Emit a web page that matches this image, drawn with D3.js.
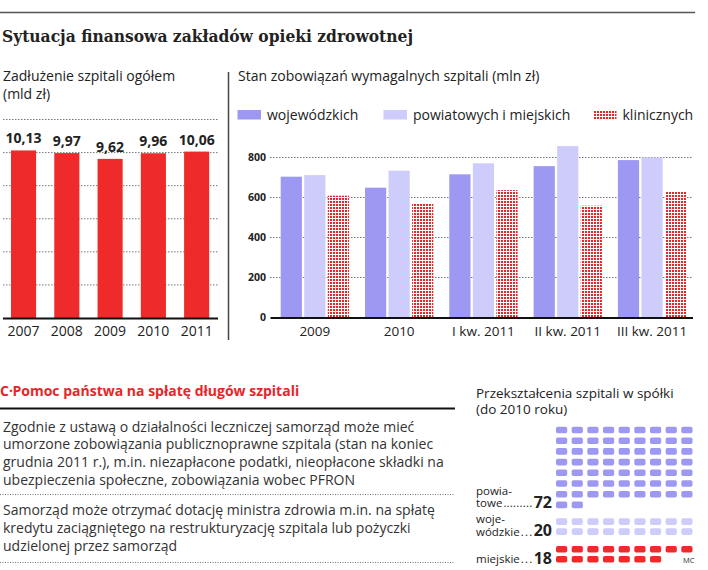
<!DOCTYPE html>
<html><head><meta charset="utf-8">
<script src="https://cdn.jsdelivr.net/npm/d3@7"></script>
<style>
html,body{margin:0;padding:0;background:#fff;}
svg{display:block;}
text{font-family:"Open Sans",sans-serif;fill:#222;}
</style></head>
<body>
<svg id="c" width="708" height="570"></svg>
<script>
// ---- data ----
const leftYears = ["2007", "2008", "2009", "2010", "2011"];
const leftValues = [10.13, 9.97, 9.62, 9.96, 10.06];
const leftGrid = [2, 4, 6, 8, 10, 12];

const rightCategories = ["2009", "2010", "I kw. 2011", "II kw. 2011", "III kw. 2011"];
const seriesNames = ["wojewódzkich", "powiatowych i miejskich", "klinicznych"];
const wojValues = [704, 649, 716, 757, 787];
const powValues = [712, 734, 771, 857, 800];
const klinValues = [609, 571, 637, 559, 629];
const rightTicks = [0, 200, 400, 600, 800];

const waffleNames = [["powia-", "towe"], ["woje-", "wódzkie"], ["miejskie"]];
const waffleValues = [72, 20, 18];
const waffleSquares = [65, 18, 16];

const para1 = ["Zgodnie z ustawą o działalności leczniczej samorząd może mieć",
  "umorzone zobowiązania publicznoprawne szpitala (stan na koniec",
  "grudnia 2011 r.), m.in. niezapłacone podatki, nieopłacone składki na",
  "ubezpieczenia społeczne, zobowiązania wobec PFRON"];
const para2 = ["Samorząd może otrzymać dotację ministra zdrowia m.in. na spłatę",
  "kredytu zaciągniętego na restrukturyzację szpitala lub pożyczki",
  "udzielonej przez samorząd"];

// ---- drawing ----
const svg = d3.select("#c");
const RED = "#ee2a2a", WOJ = "#9d98f2", POW = "#cdccfa";
const defs = svg.append("defs");
const pat = defs.append("pattern").attr("id", "dots").attr("patternUnits", "userSpaceOnUse")
  .attr("width", 3).attr("height", 3);
pat.append("rect").attr("width", 3).attr("height", 3).attr("fill", "#fff");
pat.append("rect").attr("width", 2).attr("height", 2).attr("fill", "#e8262a");
const seriesFill = [WOJ, POW, "url(#dots)"];

// top rule & title
svg.append("line").attr("x1", 0).attr("x2", 695).attr("y1", 12.5).attr("y2", 12.5)
  .attr("stroke", "#555").attr("stroke-width", 1.5);
svg.append("text").attr("x", 2).attr("y", 42)
  .style("font-family", "'DejaVu Serif',serif").style("font-weight", "bold").style("font-size", "16.5px")
  .attr("textLength", 411).attr("lengthAdjust", "spacingAndGlyphs")
  .text("Sytuacja finansowa zakładów opieki zdrowotnej");

// separator
svg.append("line").attr("x1", 228.5).attr("x2", 228.5).attr("y1", 72).attr("y2", 340)
  .attr("stroke", "#444").attr("stroke-width", 1.5);

// ---- left chart ----
svg.append("text").attr("x", 3).attr("y", 81).style("font-size", "14px").text("Zadłużenie szpitali ogółem");
svg.append("text").attr("x", 3).attr("y", 99).style("font-size", "14px").text("(mld zł)");

const lx = d3.scaleBand().domain(leftYears).range([11, 209.2]).paddingInner(0.42).paddingOuter(0);
const ly = d3.scaleLinear().domain([0, 12]).range([318, 119.5]);
const lg = svg.append("g");
lg.selectAll("line.grid").data(leftGrid).join("line").attr("class", "grid")
  .attr("x1", 3).attr("x2", 218).attr("y1", d => ly(d)).attr("y2", d => ly(d))
  .attr("stroke", "#777").attr("stroke-width", 1).attr("stroke-dasharray", "1.5,1.5");
lg.selectAll("rect").data(leftValues).join("rect")
  .attr("x", (d, i) => lx(leftYears[i])).attr("width", lx.bandwidth())
  .attr("y", d => ly(d)).attr("height", d => ly(0) - ly(d)).attr("fill", RED);
lg.append("line").attr("x1", 3).attr("x2", 218).attr("y1", ly(0) + 0.5).attr("y2", ly(0) + 0.5)
  .attr("stroke", "#111").attr("stroke-width", 2);
lg.selectAll("text.val").data(leftValues).join("text").attr("class", "val")
  .attr("x", (d, i) => lx(leftYears[i]) + lx.bandwidth() / 2).attr("y", d => ly(d) - 7)
  .attr("text-anchor", "middle").style("font-weight", "bold").style("font-size", "14px")
  .text(d => d.toFixed(2).replace(".", ","));
const lxAxis = lg.append("g").attr("transform", `translate(0,${ly(0)})`)
  .call(d3.axisBottom(lx).tickSize(0).tickPadding(8));
lxAxis.select(".domain").remove();
lxAxis.selectAll("text").style("font-size", "14px").style("font-family", "'Open Sans',sans-serif").attr("fill", "#222");

// ---- right chart ----
svg.append("text").attr("x", 238).attr("y", 81).style("font-size", "14px")
  .text("Stan zobowiązań wymagalnych szpitali (mln zł)");

const legendX = [237.5, 383.5, 593];
const leg = svg.append("g");
seriesNames.forEach((n, i) => {
  leg.append("rect").attr("x", legendX[i]).attr("y", 110).attr("width", 23.5).attr("height", 9.5)
    .attr("fill", seriesFill[i]);
  leg.append("text").attr("x", legendX[i] + 29.5).attr("y", 120).style("font-size", "14px").text(n);
});

const rx = d3.scaleBand().domain(rightCategories).range([280.7, 686.2]).paddingInner(0.19).paddingOuter(0);
const rsub = d3.scaleBand().domain(seriesNames).range([0, rx.bandwidth()]).paddingInner(0.1);
const ry = d3.scaleLinear().domain([0, 800]).range([317.5, 157.5]);
const rg = svg.append("g");
rg.selectAll("line.grid").data(rightTicks.filter(d => d > 0)).join("line").attr("class", "grid")
  .attr("x1", 270).attr("x2", 692).attr("y1", d => ry(d)).attr("y2", d => ry(d))
  .attr("stroke", "#777").attr("stroke-width", 1).attr("stroke-dasharray", "1.5,1.5");
rg.append("line").attr("x1", 270.5).attr("x2", 693).attr("y1", ry(0) + 0.5).attr("y2", ry(0) + 0.5)
  .attr("stroke", "#111").attr("stroke-width", 2);
const series = [wojValues, powValues, klinValues];
series.forEach((vals, s) => {
  rg.selectAll("rect.s" + s).data(vals).join("rect").attr("class", "s" + s)
    .attr("x", (d, i) => rx(rightCategories[i]) + rsub(seriesNames[s]))
    .attr("width", rsub.bandwidth())
    .attr("y", d => ry(d)).attr("height", d => ry(0) - ry(d) - 0.5)
    .attr("fill", seriesFill[s]);
});
const ryAxis = rg.append("g").attr("transform", "translate(266,0)")
  .call(d3.axisLeft(ry).tickValues(rightTicks).tickSize(0).tickPadding(0).tickFormat(d3.format("d")));
ryAxis.select(".domain").remove();
ryAxis.selectAll("text").style("font-size", "10.5px").style("font-weight", "bold")
  .style("font-family", "'Open Sans',sans-serif").attr("fill", "#222");
const rxAxis = rg.append("g").attr("transform", `translate(0,${ry(0)})`)
  .call(d3.axisBottom(rx).tickSize(0).tickPadding(9));
rxAxis.select(".domain").remove();
rxAxis.selectAll("text").style("font-size", "13.5px").style("font-family", "'Open Sans',sans-serif").attr("fill", "#222");

// ---- bottom left text box ----
svg.append("text").attr("x", 0).attr("y", 396).style("font-size", "14px").style("font-weight", "bold")
  .style("fill", "#e8262a").text("C·");
svg.append("text").attr("x", 12.5).attr("y", 396).style("font-size", "14px").style("font-weight", "bold")
  .style("fill", "#e8262a").text("Pomoc państwa na spłatę długów szpitali");
svg.append("line").attr("x1", 0).attr("x2", 455).attr("y1", 408.5).attr("y2", 408.5)
  .attr("stroke", "#111").attr("stroke-width", 2);
const p1 = svg.append("text").style("font-size", "14px").style("fill", "#333");
p1.selectAll("tspan").data(para1).join("tspan").attr("x", 3).attr("y", (d, i) => 431.5 + i * 17.8).text(d => d);
svg.append("line").attr("x1", 0).attr("x2", 455).attr("y1", 494.5).attr("y2", 494.5)
  .attr("stroke", "#777").attr("stroke-dasharray", "1,1.5");
const p2 = svg.append("text").style("font-size", "14px").style("fill", "#333");
p2.selectAll("tspan").data(para2).join("tspan").attr("x", 3).attr("y", (d, i) => 515 + i * 18).text(d => d);
svg.append("line").attr("x1", 0).attr("x2", 455).attr("y1", 562.5).attr("y2", 562.5)
  .attr("stroke", "#777").attr("stroke-dasharray", "1,1.5");

// ---- waffle ----
svg.append("text").attr("x", 476).attr("y", 398).style("font-size", "13.5px").text("Przekształcenia szpitali w spółki");
svg.append("text").attr("x", 476).attr("y", 414).style("font-size", "13.5px").text("(do 2010 roku)");
const wFill = [WOJ, POW, RED];
const wStartRow = [426.7, 518.3, 546];
const colX = d3.scaleLinear().domain([0, 8]).range([556, 681.3]);
const rowStep = 10.7, sqW = 11.2, sqH = 6.6;
const wg = svg.append("g");
waffleSquares.forEach((n, g) => {
  const cells = d3.range(n);
  wg.selectAll("rect.w" + g).data(cells).join("rect").attr("class", "w" + g)
    .attr("x", d => colX(d % 9)).attr("y", d => wStartRow[g] + Math.floor(d / 9) * (g === 0 ? rowStep : 10))
    .attr("width", sqW).attr("height", sqH).attr("rx", 1.8).attr("fill", wFill[g]);
});
const labBase = [[494.5, 507], [523, 535.5], [563.3]];
const numBase = [507.5, 535.5, 563.5];
const numX = [552, 552, 552];
waffleNames.forEach((lines, g) => {
  lines.forEach((l, j) => {
    const t = svg.append("text").attr("x", 476).attr("y", labBase[g][j]).style("font-size", "11.5px").text(l);
    if (j === lines.length - 1) {
      const end = 476 + t.node().getComputedTextLength() + 1;
      const num = svg.append("text").attr("x", numX[g]).attr("y", numBase[g]).attr("text-anchor", "end")
        .style("font-size", "16px").style("font-weight", "bold").text(waffleValues[g]);
      const numStart = numX[g] - num.node().getComputedTextLength() - 1.5;
      const gap = numStart - end;
      const nDots = Math.max(1, Math.floor(gap / 3));
      svg.append("text").attr("x", end).attr("y", labBase[g][j]).style("font-size", "11.5px")
        .attr("textLength", gap).attr("lengthAdjust", "spacing").text(".".repeat(nDots));
    }
  });
});
svg.append("text").attr("x", 683).attr("y", 563).style("font-size", "7.5px").style("fill", "#333").text("MC");
</script>
</body></html>
